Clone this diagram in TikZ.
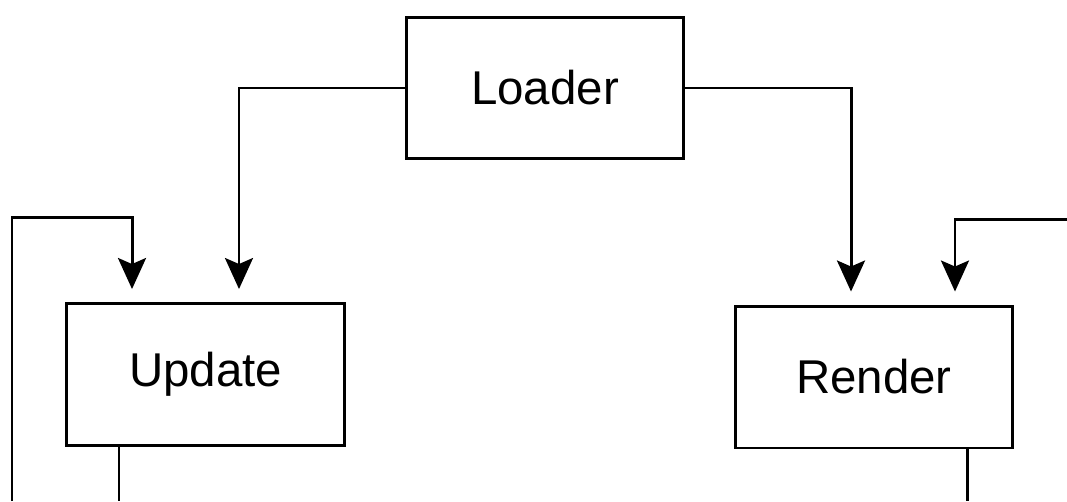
\documentclass[tikz,border=0pt]{standalone}
\usepackage{fontspec}
\setmainfont{Liberation Sans}
\usetikzlibrary{arrows.meta}
\begin{document}
\begin{tikzpicture}[x=0.02cm,y=-0.02cm,line width=1.7pt,
  box/.style={draw, rectangle, minimum width=5.56cm, minimum height=2.84cm, font=\fontsize{27}{32}\selectfont},
  flow/.style={-{Stealth[length=0.62cm,width=0.56cm,inset=0.12cm]}, shorten >=0.26cm}]
\useasboundingbox (0,0) rectangle (1067,501);
\node[box] (loader) at (545,88){Loader};
\node[box] (update) at (205.5,374.5){Update};
\node[box] (render) at (874,377){Render};
\coordinate (updin) at (12,501);
\coordinate (updtop) at (12,217);
\coordinate (updout) at (119,501);
\coordinate (renin) at (1067,219);
\coordinate (renout) at (967,501);
\draw[flow](loader.west) -| ([xshift=0.67cm]update.north);
\draw[flow](loader.east) -| ([xshift=-0.46cm]render.north);
\draw[flow](updin) -- (updtop) -| ([xshift=-1.47cm]update.north);
\draw[flow](renin) -| ([xshift=1.62cm]render.north);
\draw[](updout |- update.south) -- (updout);
\draw[](renout |- render.south) -- (renout);
\end{tikzpicture}
\end{document}
